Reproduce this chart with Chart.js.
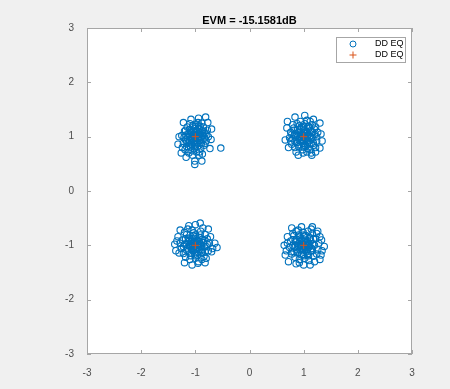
<!DOCTYPE html>
<html>
<head>
<meta charset="utf-8">
<script src="https://cdn.jsdelivr.net/npm/chart.js@4.4.0/dist/chart.umd.min.js"></script>
<style>
  html, body { margin: 0; padding: 0; background: #f0f0f0; }
  #wrap { width: 450px; height: 389px; }
</style>
</head>
<body>
<div id="wrap"><canvas id="grafico"></canvas></div>
<script>
// titolo e assi
var titolo = 'EVM = -15.1581dB';
var etichetta = 'DD EQ';
var tickValori = [-3, -2, -1, 0, 1, 2, 3];

// punti ricevuti dopo equalizzazione (quadrante per quadrante)
var puntiQ2 = [
    [-1.00,1.00],[-0.95,1.05],[-1.05,0.95],[-0.92,0.97],[-1.08,1.04],[-0.98,1.12],[-1.02,0.88],[-0.90,1.08],
    [-1.10,0.92],[-0.96,0.90],[-1.04,1.10],[-0.88,0.94],[-1.12,1.06],[-1.00,1.15],[-1.01,0.85],[-0.86,1.02],
    [-1.14,0.98],[-0.93,1.14],[-1.07,0.86],[-0.97,0.96],[-1.03,1.03],[-0.91,0.89],[-1.09,1.11],
    [-0.82,1.06],[-1.18,0.94],[-0.99,1.22],[-1.02,0.78],[-0.80,0.92],[-1.20,1.10],[-0.85,1.18],[-1.16,0.82],
    [-0.78,1.12],[-1.22,0.88],[-0.90,0.78],[-1.10,1.24],[-0.84,0.84],[-1.15,1.18],[-1.06,0.74],[-0.95,1.26],
    [-0.76,1.00],[-1.25,1.02],[-0.88,1.25],[-1.19,0.76],
    [-0.81,1.36],[-0.77,1.26],[-0.53,0.79],[-1.26,0.70],[-1.17,0.62],[-1.01,0.55],[-0.88,0.55],[-1.01,0.49],
    [-0.71,0.95],[-1.30,1.00],[-1.32,0.86],[-0.73,0.78],[-1.12,0.70],[-0.93,0.66],[-1.22,1.26],[-0.70,1.14],
    [-0.94,1.34],[-1.08,1.32],
    [-0.99,1.02],[-1.01,0.98],[-0.94,1.00],[-1.06,1.00],[-1.00,1.07],[-1.00,0.93],[-0.93,0.93],[-1.07,1.07],
    [-0.93,1.07],[-1.07,0.93],[-0.89,1.00],[-1.11,1.00],[-1.00,1.19],[-1.00,0.81],[-0.87,1.11],[-1.13,0.89],
    [-0.83,0.97],[-1.17,1.03],[-0.96,0.82],[-1.04,1.18],[-0.91,1.19],[-1.09,0.81],[-0.82,0.88],[-1.18,1.12],
    [-0.97,1.09],[-1.03,0.91],[-0.89,0.87],[-1.11,1.13],[-0.84,1.09],[-1.16,0.91],[-0.98,0.72],[-0.92,0.72],
    [-1.13,0.76],[-1.21,0.98],[-0.79,1.03],[-0.87,0.68],[-1.05,0.66],[-1.24,0.80],[-0.94,1.20],[-1.05,1.20]
];
var puntiQ1 = [
    [1.00,1.00],[1.05,0.95],[0.95,1.05],[1.08,1.03],[0.92,0.97],[1.02,1.12],[0.98,0.88],[1.10,0.92],
    [0.90,1.08],[1.04,1.06],[0.96,0.94],[1.12,1.10],[0.88,0.90],[1.00,1.16],[1.01,0.84],[1.14,0.98],
    [0.86,1.02],[1.07,0.86],[0.93,1.14],[1.03,0.97],[0.97,1.03],[1.09,1.15],[0.91,0.85],
    [1.20,1.04],[0.80,0.96],[1.02,1.24],[0.98,0.76],[1.18,0.84],[0.82,1.16],[1.22,1.18],[0.78,0.86],
    [1.12,0.76],[0.88,1.24],[1.24,0.92],[0.76,1.08],[1.16,1.22],[0.84,0.80],[0.94,1.28],[1.06,0.72],
    [1.26,1.08],[0.74,0.98],[1.14,0.70],[0.80,1.22],
    [0.84,1.36],[1.02,1.39],[1.30,1.25],[1.32,1.05],[1.30,0.79],[1.15,0.66],[0.99,0.70],[0.66,0.94],
    [0.69,1.16],[1.22,0.72],[0.72,0.80],[1.18,1.32],[0.70,1.28],[1.34,0.92],[0.90,0.66],
    [1.01,1.02],[0.99,0.98],[1.06,1.00],[0.94,1.00],[1.00,1.07],[1.00,0.93],[1.07,1.07],[0.93,0.93],
    [1.07,0.93],[0.93,1.07],[1.11,1.00],[0.89,1.00],[1.00,1.19],[1.00,0.81],[1.13,1.11],[0.87,0.89],
    [1.17,0.97],[0.83,1.03],[1.04,0.82],[0.96,1.18],[1.09,1.19],[0.91,0.81],[1.18,0.88],[0.82,1.12],
    [1.03,1.09],[0.97,0.91],[1.11,0.87],[0.89,1.13],[1.16,1.09],[0.84,0.91],[1.20,1.14],[0.86,0.72],
    [1.08,0.78],[0.78,1.04],[1.24,1.00],[0.92,1.20],[1.06,1.30],[1.22,0.80],[0.76,0.92],[1.12,1.28]
];
var puntiQ3 = [
    [-1.00,-1.00],[-0.94,-1.04],[-1.06,-0.96],[-0.97,-0.91],[-1.03,-1.09],[-0.90,-0.98],[-1.10,-1.02],[-1.05,-0.88],
    [-0.95,-1.12],[-1.12,-0.93],[-0.88,-1.07],[-1.02,-0.95],[-0.98,-1.05],[-1.08,-1.14],[-0.92,-0.86],[-1.15,-1.05],
    [-0.85,-0.95],[-1.01,-1.16],[-0.99,-0.84],[-1.13,-0.87],[-0.87,-1.13],[-1.04,-1.01],[-0.96,-0.99],
    [-1.20,-0.98],[-0.80,-1.02],[-1.00,-1.24],[-1.03,-0.77],[-1.22,-1.15],[-0.78,-0.88],[-1.16,-0.80],[-0.84,-1.20],
    [-1.26,-1.06],[-0.76,-1.10],[-1.10,-1.26],[-0.90,-0.74],[-1.24,-0.90],[-0.82,-0.80],[-1.18,-1.22],[-0.88,-1.26],
    [-0.74,-0.96],[-1.28,-0.96],[-1.06,-0.72],[-0.94,-1.30],
    [-0.91,-0.59],[-1.12,-0.64],[-1.36,-1.10],[-0.95,-1.33],[-0.64,-0.96],[-1.32,-0.84],[-0.70,-1.12],[-1.20,-1.32],
    [-0.76,-0.70],[-1.28,-0.72],[-0.60,-1.04],[-1.06,-1.36],[-1.38,-0.98],[-0.82,-1.32],[-1.00,-0.62],
    [-1.01,-1.02],[-0.99,-0.98],[-1.06,-1.00],[-0.94,-1.00],[-1.00,-1.07],[-1.00,-0.93],[-1.07,-1.07],[-0.93,-0.93],
    [-1.07,-0.93],[-0.93,-1.07],[-1.11,-1.00],[-0.89,-1.00],[-1.00,-1.19],[-1.00,-0.81],[-1.13,-1.11],[-0.87,-0.89],
    [-1.17,-0.97],[-0.83,-1.03],[-1.04,-0.82],[-0.96,-1.18],[-1.09,-1.19],[-0.91,-0.81],[-1.18,-0.88],[-0.82,-1.12],
    [-1.03,-1.09],[-0.97,-0.91],[-1.11,-0.87],[-0.89,-1.13],[-1.16,-1.09],[-0.84,-0.91],[-1.22,-1.02],[-0.78,-0.98],
    [-1.14,-0.70],[-0.86,-0.68],[-1.30,-1.14],[-0.72,-0.84],[-1.20,-0.76],[-0.80,-1.24],[-1.34,-0.92],[-0.68,-1.06]
];
var puntiQ4 = [
    [1.00,-1.00],[1.06,-0.95],[0.94,-1.05],[1.03,-0.90],[0.97,-1.10],[1.10,-1.03],[0.90,-0.97],[1.05,-1.12],
    [0.95,-0.88],[1.13,-0.92],[0.87,-1.08],[1.02,-1.04],[0.98,-0.96],[1.08,-1.15],[0.92,-0.85],[1.15,-1.06],
    [0.85,-0.94],[1.00,-1.17],[1.01,-0.83],[1.12,-0.86],[0.88,-1.14],[1.04,-0.99],[0.96,-1.01],
    [1.20,-1.00],[0.80,-1.00],[1.02,-1.24],[0.99,-0.76],[1.22,-0.88],[0.78,-1.12],[1.18,-1.20],[0.82,-0.82],
    [1.26,-1.08],[0.76,-0.92],[1.08,-0.74],[0.92,-1.26],[1.16,-0.78],[0.84,-1.22],[1.24,-1.16],[0.74,-1.04],
    [1.10,-1.28],[0.90,-0.72],[1.28,-0.96],[0.80,-0.78],
    [0.96,-0.66],[1.24,-0.78],[1.33,-0.90],[0.66,-1.18],[1.12,-1.36],[0.70,-0.84],[1.34,-1.10],[0.86,-1.34],
    [1.30,-1.26],[0.64,-1.00],[1.16,-0.66],[0.72,-1.30],[1.38,-1.02],[1.00,-1.36],[0.78,-0.68],
    [1.01,-1.02],[0.99,-0.98],[1.06,-1.00],[0.94,-1.00],[1.00,-1.07],[1.00,-0.93],[1.07,-1.07],[0.93,-0.93],
    [1.07,-0.93],[0.93,-1.07],[1.11,-1.00],[0.89,-1.00],[1.00,-1.19],[1.00,-0.81],[1.13,-1.11],[0.87,-0.89],
    [1.17,-0.97],[0.83,-1.03],[1.04,-0.82],[0.96,-1.18],[1.09,-1.19],[0.91,-0.81],[1.18,-0.88],[0.82,-1.12],
    [1.03,-1.09],[0.97,-0.91],[1.11,-0.87],[0.89,-1.13],[1.16,-1.09],[0.84,-0.91],[1.30,-0.84],[0.70,-0.96],
    [1.20,-1.30],[0.78,-1.16],[1.26,-0.74],[0.86,-0.74],[1.32,-1.18],[0.68,-1.10],[1.14,-0.70],[0.92,-1.32]
];
// simboli ideali QPSK
var simboliX = [-1, 1, -1, 1];
var simboliY = [1, 1, -1, -1];

var blu = '#0072BD';
var arancio = '#D95319';
var fontAssi = '"Liberation Sans", Arial, sans-serif';

function toXY(lista) {
    return lista.map(function (p) { return { x: p[0], y: p[1] }; });
}

var ricevuti = toXY(puntiQ2.concat(puntiQ1, puntiQ3, puntiQ4));
var ideali = simboliX.map(function (x, i) { return { x: x, y: simboliY[i] }; });

// sfondo bianco, cornice con tick interni, titolo e legenda stile MATLAB
var stileMatlab = {
    id: 'stileMatlab',
    beforeDraw: function (chart) {
        var a = chart.chartArea, ctx = chart.ctx;
        ctx.save();
        ctx.fillStyle = '#f0f0f0';
        ctx.fillRect(0, 0, chart.width, chart.height);
        ctx.fillStyle = '#ffffff';
        ctx.fillRect(a.left, a.top, a.right - a.left, a.bottom - a.top);
        ctx.restore();
    },
    afterDraw: function (chart) {
        var a = chart.chartArea, ctx = chart.ctx;
        var sx = chart.scales.x, sy = chart.scales.y;
        ctx.save();
        ctx.strokeStyle = '#a6a6a6';
        ctx.lineWidth = 1;
        ctx.strokeRect(a.left + 0.5, a.top + 0.5, a.right - a.left - 1, a.bottom - a.top - 1);
        ctx.beginPath();
        tickValori.forEach(function (v) {
            var px = Math.round(sx.getPixelForValue(v)) + 0.5;
            ctx.moveTo(px, a.bottom); ctx.lineTo(px, a.bottom - 4);
            ctx.moveTo(px, a.top); ctx.lineTo(px, a.top + 4);
            var py = Math.round(sy.getPixelForValue(v)) + 0.5;
            ctx.moveTo(a.left, py); ctx.lineTo(a.left + 4, py);
            ctx.moveTo(a.right, py); ctx.lineTo(a.right - 4, py);
        });
        ctx.stroke();

        // titolo
        ctx.fillStyle = '#000';
        ctx.font = 'bold 11px ' + fontAssi;
        ctx.textAlign = 'center';
        ctx.textBaseline = 'middle';
        ctx.fillText(titolo, (a.left + a.right) / 2, 21);

        // legenda
        var lx = 336, ly = 37, lw = 69, lh = 25;
        ctx.fillStyle = '#fff';
        ctx.fillRect(lx, ly, lw, lh);
        ctx.strokeStyle = '#a6a6a6';
        ctx.strokeRect(lx + 0.5, ly + 0.5, lw, lh);
        ctx.font = '9px ' + fontAssi;
        ctx.textAlign = 'left';
        chart.data.datasets.forEach(function (ds, i) {
            var y = 44 + i * 11;
            ctx.strokeStyle = ds.borderColor;
            ctx.lineWidth = 1;
            ctx.beginPath();
            if (ds.pointStyle === 'cross') {
                ctx.moveTo(353, y - 3.5); ctx.lineTo(353, y + 3.5);
                ctx.moveTo(349.5, y); ctx.lineTo(356.5, y);
            } else {
                ctx.arc(353, y, 3, 0, Math.PI * 2);
            }
            ctx.stroke();
            ctx.fillStyle = '#000';
            ctx.fillText(ds.label, 375, y);
        });
        ctx.restore();
    }
};

var ctx = document.getElementById('grafico');
var chart = new Chart(ctx, {
    type: 'scatter',
    data: {
        datasets: [{
            label: etichetta,
            data: ricevuti,
            borderColor: blu,
            backgroundColor: 'rgba(0,0,0,0)',
            pointStyle: 'circle',
            pointRadius: 3.2,
            borderWidth: 1.1,
            order: 2
        },
        {
            label: etichetta,
            data: ideali,
            borderColor: arancio,
            backgroundColor: arancio,
            pointStyle: 'cross',
            pointRadius: 3.5,
            borderWidth: 1,
            order: 1
        }]
    },
    options: {
        responsive: true,
        maintainAspectRatio: false,
        animation: false,
        events: [],
        layout: { padding: { top: 28, right: 38, left: 0, bottom: 0 } },
        plugins: { legend: { display: false }, tooltip: { enabled: false } },
        scales: {
            x: {
                min: -3, max: 3,
                grid: { display: false },
                border: { display: false },
                ticks: { stepSize: 1, padding: 5, color: '#4d4d4d', font: { size: 10, family: fontAssi }, maxRotation: 0 },
                afterFit: function (s) { s.height = 35; }
            },
            y: {
                min: -3, max: 3,
                grid: { display: false },
                border: { display: false },
                ticks: { stepSize: 1, padding: 5, color: '#4d4d4d', font: { size: 10, family: fontAssi } },
                afterFit: function (s) { s.width = 87; }
            }
        }
    },
    plugins: [stileMatlab]
});
</script>
</body>
</html>
